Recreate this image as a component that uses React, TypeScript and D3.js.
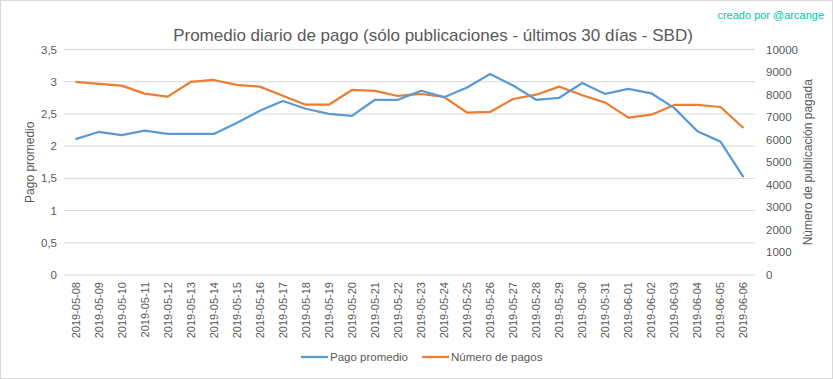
import React from "react";
import * as d3 from "d3";

const dates = [
  "2019-05-08","2019-05-09","2019-05-10","2019-05-11","2019-05-12","2019-05-13","2019-05-14","2019-05-15",
  "2019-05-16","2019-05-17","2019-05-18","2019-05-19","2019-05-20","2019-05-21","2019-05-22","2019-05-23",
  "2019-05-24","2019-05-25","2019-05-26","2019-05-27","2019-05-28","2019-05-29","2019-05-30","2019-05-31",
  "2019-06-01","2019-06-02","2019-06-03","2019-06-04","2019-06-05","2019-06-06",
];
const pagoPromedio = [
  2.11, 2.22, 2.17, 2.24, 2.19, 2.19, 2.19, 2.36, 2.55, 2.70, 2.58, 2.50, 2.47, 2.72, 2.72,
  2.86, 2.76, 2.91, 3.12, 2.94, 2.72, 2.75, 2.98, 2.81, 2.89, 2.82, 2.59, 2.23, 2.07, 1.52,
];
const numeroPagos = [
  8560, 8471, 8396, 8041, 7908, 8560, 8648, 8427, 8352, 7952, 7553, 7553, 8205, 8161, 7939,
  8027, 7894, 7198, 7229, 7805, 7996, 8352, 7969, 7642, 6977, 7110, 7540, 7540, 7450, 6520,
];
const leftTicks = [0, 0.5, 1, 1.5, 2, 2.5, 3, 3.5];
const rightTicks = [0, 1000, 2000, 3000, 4000, 5000, 6000, 7000, 8000, 9000, 10000];

const W = 833, H = 379;
const L = 64, R = 755, T = 49.5, B = 275;
const FONT = "'Liberation Sans', Arial, sans-serif";
const GRAY = "#595959";
const BLUE = "#5B9BD5";
const ORANGE = "#ED7D31";

export default function App() {
  const x = d3.scaleBand<string>().domain(dates).range([L, R]);
  const yL = d3.scaleLinear().domain([0, 3.5]).range([B, T]);
  const yR = d3.scaleLinear().domain([0, 10000]).range([B, T]);
  const cx = (d: string) => (x(d) as number) + x.bandwidth() / 2;
  const lineL = d3.line<number>().x((_, i) => cx(dates[i])).y((v) => yL(v));
  const lineR = d3.line<number>().x((_, i) => cx(dates[i])).y((v) => yR(v));
  const fmtL = (v: number) => String(v).replace(".", ",");

  return (
    <svg width={W} height={H} style={{ position: "absolute", left: 0, top: 0 }} fontFamily={FONT}>
      <rect x={0.5} y={0.5} width={W - 1} height={H - 1} fill="#fff" stroke="#d9d9d9" />
      <text x={824} y={19} textAnchor="end" fontSize={11} fill="#00C8A0">creado por @arcange</text>
      <text x={433} y={41} textAnchor="middle" fontSize={17} fill={GRAY}>
        Promedio diario de pago (sólo publicaciones - últimos 30 días - SBD)
      </text>
      {leftTicks.map((t) => (
        <g key={"l" + t}>
          <line x1={L} x2={R} y1={yL(t)} y2={yL(t)} stroke="#d9d9d9" strokeWidth={1} />
          <text x={57} y={yL(t) + 4} textAnchor="end" fontSize={11.5} fill={GRAY}>{fmtL(t)}</text>
        </g>
      ))}
      {rightTicks.map((t) => (
        <text key={"r" + t} x={766} y={yR(t) + 4} textAnchor="start" fontSize={11.5} fill={GRAY}>{t}</text>
      ))}
      <text transform={`translate(34,${(T + B) / 2}) rotate(-90)`} textAnchor="middle" fontSize={12} fill={GRAY}>
        Pago promedio
      </text>
      <text transform={`translate(812,${(T + B) / 2}) rotate(-90)`} textAnchor="middle" fontSize={12} fill={GRAY}>
        Número de publicación pagada
      </text>
      {dates.map((d) => (
        <text key={d} transform={`translate(${cx(d) + 4},${B + 7}) rotate(-90)`} textAnchor="end" fontSize={11} fill={GRAY}>
          {d}
        </text>
      ))}
      <path d={lineR(numeroPagos) as string} fill="none" stroke={ORANGE} strokeWidth={2.25} strokeLinejoin="round" />
      <path d={lineL(pagoPromedio) as string} fill="none" stroke={BLUE} strokeWidth={2.25} strokeLinejoin="round" />
      <line x1={301} x2={328} y1={357} y2={357} stroke={BLUE} strokeWidth={2.25} />
      <text x={330} y={361} fontSize={11.5} fill={GRAY}>Pago promedio</text>
      <line x1={422} x2={449} y1={357} y2={357} stroke={ORANGE} strokeWidth={2.25} />
      <text x={451} y={361} fontSize={11.5} fill={GRAY}>Número de pagos</text>
    </svg>
  );
}
